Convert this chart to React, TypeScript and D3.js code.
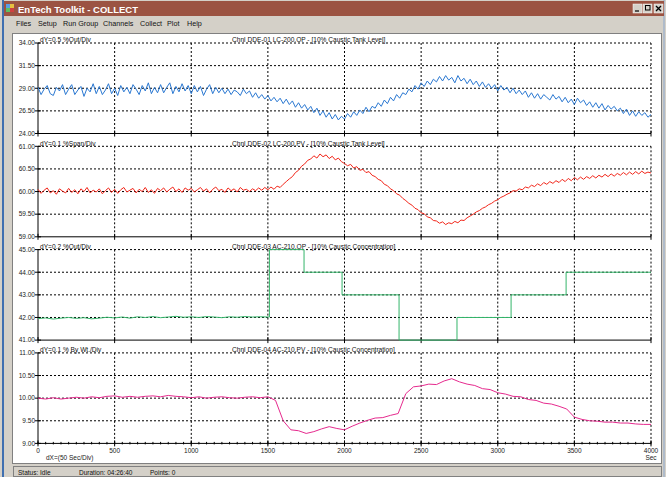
import * as d3 from 'd3'

// the two noisy traces are read every 20 s, the slower ones every 50 s
const times20 = d3.range(0, 4001, 20)
const times50 = d3.range(0, 4001, 50)
const greenNoiseTimes = d3.range(0, 1501, 50)

const blueValues = [
  29.1, 28.3, 28.9, 29.3, 28.4, 28.2, 29.1, 28.7, 29.4, 28.3,
  28.9, 29.4, 28.3, 28.8, 29.2, 28.1, 29.0, 28.6, 29.5, 28.4,
  29.2, 28.3, 28.8, 29.5, 28.4, 29.0, 28.2, 29.3, 28.6, 29.1,
  28.4, 29.4, 28.9, 28.3, 29.3, 28.7, 29.6, 28.4, 29.1, 28.5,
  29.4, 28.5, 29.1, 29.6, 28.4, 29.2, 28.6, 29.5, 28.7, 29.3,
  28.4, 29.3, 28.6, 29.2, 28.2, 28.9, 29.4, 28.4, 29.1, 28.5,
  29.0, 28.4, 28.9, 28.3, 28.8, 28.6, 28.2, 28.9, 28.4, 28.7,
  28.0, 28.5, 27.9, 28.3, 27.8, 28.2, 27.6, 28.0, 27.5, 27.9,
  27.3, 27.8, 27.2, 27.6, 26.9, 27.4, 26.8, 27.2, 26.6, 27.0,
  26.3, 26.8, 26.0, 26.5, 25.8, 26.3, 25.6, 26.1, 25.5, 25.9,
  25.6, 26.2, 25.8, 26.4, 26.0, 26.6, 26.2, 26.9, 26.4, 27.0,
  26.8, 27.4, 27.0, 27.7, 27.3, 28.0, 27.6, 28.3, 27.9, 28.5,
  28.3, 28.9, 28.6, 29.3, 28.9, 29.6, 29.2, 29.8, 29.4, 30.0,
  29.7, 30.3, 29.8, 30.4, 29.9, 30.2, 29.6, 30.4, 29.8, 30.1,
  29.5, 30.0, 29.4, 29.8, 29.2, 29.7, 29.1, 29.5, 29.0, 29.4,
  28.7, 29.3, 28.8, 29.1, 28.5, 29.0, 28.4, 28.8, 28.3, 28.7,
  28.0, 28.5, 27.9, 28.4, 27.8, 28.3, 28.0, 27.7, 28.3, 27.8,
  28.1, 27.5, 28.0, 27.4, 27.8, 27.2, 27.9, 27.4, 27.7, 27.1,
  27.5, 26.9, 27.4, 26.8, 27.3, 26.6, 27.1, 26.7, 27.0, 26.5,
  26.8, 26.2, 26.7, 26.0, 26.5, 25.9, 26.4, 26.0, 26.3, 25.8,
  26.1,
]

const redValues = [
  60.05, 59.96, 60.03, 60.08, 59.97, 60.02, 59.94, 60.06, 60.01, 59.97,
  60.07, 59.98, 60.04, 59.95, 60.06, 60.00, 60.09, 59.97, 60.03, 59.99,
  60.06, 59.95, 60.02, 60.08, 59.98, 60.05, 59.96, 60.04, 60.09, 59.99,
  60.03, 60.07, 59.97, 60.05, 60.00, 60.09, 59.98, 60.04, 59.96, 60.07,
  60.02, 60.08, 59.99, 60.05, 60.10, 60.00, 60.06, 59.98, 60.08, 60.03,
  60.07, 59.99, 60.04, 60.09, 60.01, 60.06, 59.97, 60.05, 60.10, 60.02,
  60.05, 59.98, 60.08, 60.02, 60.06, 59.99, 60.09, 60.03, 60.05, 60.00,
  60.06, 60.02, 60.08, 60.03, 60.09, 60.04, 60.10, 60.05, 60.12, 60.09,
  60.16, 60.22, 60.28, 60.33, 60.42, 60.47, 60.56, 60.61, 60.69, 60.72,
  60.79, 60.74, 60.83, 60.77, 60.81, 60.73, 60.78, 60.70, 60.74, 60.66,
  60.62, 60.57, 60.60, 60.52, 60.55, 60.47, 60.49, 60.42, 60.44, 60.36,
  60.33, 60.27, 60.24, 60.16, 60.13, 60.06, 60.02, 59.95, 59.92, 59.85,
  59.80, 59.74, 59.70, 59.63, 59.60, 59.53, 59.51, 59.44, 59.42, 59.36,
  59.35, 59.30, 59.33, 59.27, 59.31, 59.29, 59.34, 59.31, 59.37, 59.36,
  59.42, 59.46, 59.50, 59.55, 59.58, 59.63, 59.66, 59.71, 59.74, 59.79,
  59.82, 59.87, 59.90, 59.94, 59.97, 60.02, 60.01, 60.06, 60.04, 60.10,
  60.08, 60.14, 60.11, 60.17, 60.13, 60.20, 60.16, 60.22, 60.18, 60.24,
  60.20, 60.27, 60.22, 60.29, 60.24, 60.31, 60.26, 60.32, 60.27, 60.33,
  60.29, 60.35, 60.30, 60.36, 60.32, 60.38, 60.33, 60.39, 60.34, 60.40,
  60.36, 60.42, 60.37, 60.43, 60.38, 60.44, 60.39, 60.45, 60.40, 60.43,
  60.41,
]

const greenNoiseValues = [
  41.95, 41.98, 41.93, 41.97, 42.0, 41.96, 41.99, 41.94, 41.97, 42.01,
  41.98, 42.02, 41.97, 42.03, 42.0, 42.04, 41.99, 42.02, 42.05, 42.01,
  42.03, 42.0, 42.04, 42.02, 41.99, 42.03, 42.01, 42.04, 42.02, 42.03, 42.02,
]
const greenStepTimes = [1500, 1510, 1736, 1984, 2356, 2734, 3087, 3446, 4000]
const greenStepLevels = [42.02, 45, 44, 43, 41, 42, 43, 44, 44]

const magentaValues = [
  10.0, 9.98, 10.01, 9.98, 10.0, 10.02, 10.0, 10.03, 10.01, 10.04,
  10.05, 10.02, 10.04, 10.02, 10.04, 10.05, 10.03, 10.06, 10.04, 10.03,
  10.01, 10.03, 10.0, 10.02, 10.03, 10.01, 10.0, 10.02, 10.03, 10.01, 10.03,
  9.95, 9.5, 9.3, 9.28, 9.22, 9.26, 9.32, 9.37, 9.33, 9.3,
  9.38, 9.45, 9.51, 9.56, 9.57, 9.62, 9.66,
  10.1, 10.25, 10.27, 10.31, 10.3, 10.38, 10.43, 10.36, 10.31, 10.28,
  10.21, 10.19, 10.12, 10.09, 10.04, 10.03, 9.97, 9.95, 9.89, 9.87, 9.82, 9.76,
  9.58, 9.53, 9.5, 9.49, 9.47, 9.47, 9.45, 9.45, 9.43, 9.42, 9.42,
]

const xTicks = d3.range(0, 4001, 500)
const xMinorTicks = d3.range(0, 4001, 50)

const panelTicks = [
  [24, 26.5, 29, 31.5, 34],
  [59, 59.5, 60, 60.5, 61],
  [41, 42, 43, 44, 45],
  [9, 9.5, 10, 10.5, 11],
]
const dyLabels = ['dY=0.5 %Out/Div', 'dY=0.1 %Span/Div', 'dY=0.2 %Out/Div', 'dY=0.1 % By Wt./Div']
const chnlLabels = [
  'Chnl DDE-01  LC-200.OP - [10% Caustic Tank Level]',
  'Chnl DDE-02  LC-200.PV - [10% Caustic Tank Level]',
  'Chnl DDE-03  AC-210.OP - [10% Caustic Concentration]',
  'Chnl DDE-04  AC-210.PV - [10% Caustic Concentration]',
]
const menuItems = ['Files', 'Setup', 'Run Group', 'Channels', 'Collect', 'Plot', 'Help']
const menuX = [16, 38, 63, 103, 140, 167, 187]

const W = 666
const H = 477
const X0 = 38
const X1 = 651
const PANEL_TOP = 43
const PANEL_PITCH = 103.3
const PANEL_H = 90.5
const FONT = '"Liberation Sans", Arial, sans-serif'
const COLORS = ['#2a78d2', '#f2261a', '#34b56a', '#e62a8e']

export default function App() {
  const x = d3.scaleLinear().domain([0, 4000]).range([X0, X1])
  const fmt = d3.format('.2f')

  const ys = panelTicks.map((ticks, i) => {
    const top = PANEL_TOP + i * PANEL_PITCH
    return d3.scaleLinear().domain([ticks[0], ticks[ticks.length - 1]]).range([top + PANEL_H, top])
  })

  const linePath = (ts: number[], vs: number[], y: d3.ScaleLinear<number, number>, curve = d3.curveLinear) =>
    d3.line<number>().x((_, i) => x(ts[i])).y(v => y(v)).curve(curve)(vs) || ''

  const traces = [
    [linePath(times20, blueValues, ys[0])],
    [linePath(times20, redValues, ys[1])],
    [linePath(greenNoiseTimes, greenNoiseValues, ys[2]), linePath(greenStepTimes, greenStepLevels, ys[2], d3.curveStepAfter)],
    [linePath(times50, magentaValues, ys[3])],
  ]

  const axisText = { fontFamily: FONT, fontSize: 6.5, fill: '#222' }
  const headText = { fontFamily: FONT, fontSize: 6.6, fill: '#111' }

  return (
    <svg width={W} height={H} style={{ position: 'absolute', left: 0, top: 0 }}>
      {/* window chrome */}
      <rect x={0} y={0} width={W} height={H} fill="#d4d0c8" />
      <line x1={3} y1={0} x2={3} y2={H} stroke="#3f6fb0" strokeWidth={2} />
      <line x1={664} y1={0} x2={664} y2={H} stroke="#8aa6cc" strokeWidth={1} />
      <rect x={4} y={1} width={660} height={15} fill="#9b5342" />
      <rect x={6} y={4} width={4} height={4} fill="#5aa0e0" />
      <rect x={10} y={4} width={4} height={4} fill="#e8c040" />
      <rect x={6} y={8} width={4} height={4} fill="#60c060" />
      <rect x={10} y={8} width={4} height={4} fill="#d04040" />
      <text x={18} y={12.5} fill="#fff" fontFamily={FONT} fontWeight="bold" fontSize={9.5}>EnTech Toolkit  -  COLLECT</text>
      {[633, 643, 654].map((bx, i) => (
        <g key={bx}>
          <rect x={bx} y={4} width={9} height={9} fill="#d4d0c8" stroke="#fff" strokeWidth={0.5} />
          {i === 0 && <line x1={bx + 2} y1={11} x2={bx + 6} y2={11} stroke="#000" strokeWidth={1.2} />}
          {i === 1 && <rect x={bx + 2.5} y={5.5} width={4.5} height={4.5} fill="none" stroke="#000" strokeWidth={1} />}
          {i === 2 && <path d={`M${bx + 2},6 L${bx + 7},11 M${bx + 7},6 L${bx + 2},11`} stroke="#000" strokeWidth={1.3} />}
        </g>
      ))}
      {menuItems.map((m, i) => (
        <text key={m} x={menuX[i]} y={26} fontFamily={FONT} fontSize={7.2} fill="#111">{m}</text>
      ))}

      {/* plot area */}
      <rect x={12.5} y={33.5} width={649} height={430} fill="#fff" stroke="#808080" strokeWidth={1} />

      {panelTicks.map((ticks, i) => {
        const y = ys[i]
        const top = y.range()[1]
        const bottom = y.range()[0]
        const last = i === panelTicks.length - 1
        return (
          <g key={i}>
            {ticks.slice(1).map(t => (
              <line key={t} x1={X0} x2={X1} y1={y(t)} y2={y(t)} stroke="#000" strokeWidth={1} strokeDasharray="2,2" />
            ))}
            {xTicks.slice(1).map(t => (
              <line key={t} x1={x(t)} x2={x(t)} y1={top} y2={bottom} stroke="#000" strokeWidth={1} strokeDasharray="2,2" />
            ))}
            <line x1={X0} x2={X0} y1={top} y2={bottom} stroke="#000" />
            {ticks.map(t => (
              <g key={t}>
                <line x1={X0 - 3} x2={X0 + 3} y1={y(t)} y2={y(t)} stroke="#000" />
                <text x={X0 - 3} y={y(t) + 2.3} textAnchor="end" {...axisText}>{fmt(t)}</text>
              </g>
            ))}
            <line x1={X0} x2={X1} y1={bottom} y2={bottom} stroke="#000" />
            {xTicks.map(t => (
              <line key={t} x1={x(t)} x2={x(t)} y1={bottom - 3} y2={bottom + 3} stroke="#000" />
            ))}
            {last && xMinorTicks.map(t => (
              <line key={'m' + t} x1={x(t)} x2={x(t)} y1={bottom - 1.5} y2={bottom + 1} stroke="#000" />
            ))}
            <text x={X0 + 2} y={top - 0.8} {...headText}>{dyLabels[i]}</text>
            <text x={232} y={top - 0.8} {...headText}>{chnlLabels[i]}</text>
            {traces[i].map((d, k) => (
              <path key={k} d={d} fill="none" stroke={COLORS[i]} strokeWidth={1} />
            ))}
          </g>
        )
      })}

      {xTicks.map(t => (
        <text key={t} x={x(t)} y={453} textAnchor="middle" {...axisText}>{t}</text>
      ))}
      <text x={46} y={460} {...axisText}>dX=(50 Sec/Div)</text>
      <text x={X1} y={460} textAnchor="middle" {...axisText}>Sec</text>

      {/* status bar */}
      <rect x={13.5} y={466.5} width={648} height={10} fill="#d4d0c8" stroke="#808080" strokeWidth={1} />
      <text x={18} y={474.5} fontFamily={FONT} fontSize={6.5} fill="#111">Status: Idle</text>
      <text x={79} y={474.5} fontFamily={FONT} fontSize={6.5} fill="#111">Duration: 04:26:40</text>
      <text x={150} y={474.5} fontFamily={FONT} fontSize={6.5} fill="#111">Points: 0</text>
    </svg>
  )
}
